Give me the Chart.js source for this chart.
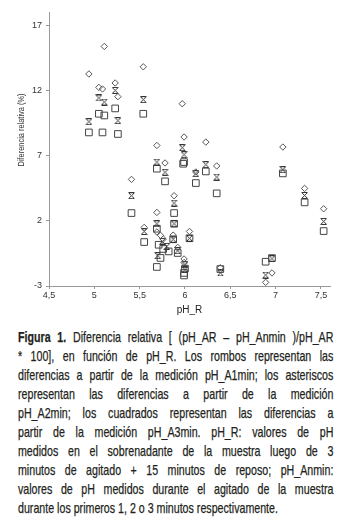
<!DOCTYPE html>
<html lang="es">
<head>
  <meta charset="UTF-8">
  <title>Figura 1 - Diferencia relativa</title>
  <script src="https://cdn.jsdelivr.net/npm/chart.js"></script>
  <style>
    body { margin: 0; background: #fff; }
    #wrap { position: relative; width: 348px; height: 524px; overflow: hidden; }
    #chart { position: absolute; left: 0; top: 0; }
    .caption { position: absolute; left: 18px; top: 328px; }
    .caption div {
      width: 432px; height: 19px; line-height: 19px;
      font-family: "Liberation Sans", Arial, sans-serif; font-size: 14.6px; color: #231f20;
      -webkit-text-stroke: 0.25px #231f20;
      text-align: justify; text-align-last: justify;
      transform: scaleX(0.73); transform-origin: 0 0;
    }
    .caption div.last { text-align-last: left; }
  </style>
</head>
<body>
  <div id="wrap">
    <canvas id="chart" width="348" height="320"></canvas>
    <div class="caption">
      <div><span><b>Figura 1.</b> Diferencia relativa [ (pH_AR – pH_Anmin )/pH_AR</span></div>
      <div><span>* 100], en función de pH_R. Los rombos representan las</span></div>
      <div><span>diferencias a partir de la medición pH_A1min; los asteriscos</span></div>
      <div><span>representan las diferencias a partir de la medición</span></div>
      <div><span>pH_A2min; los cuadrados representan las diferencias a</span></div>
      <div><span>partir de la medición pH_A3min. pH_R: valores de pH</span></div>
      <div><span>medidos en el sobrenadante de la muestra luego de 3</span></div>
      <div><span>minutos de agitado + 15 minutos de reposo; pH_Anmin:</span></div>
      <div><span>valores de pH medidos durante el agitado de la muestra</span></div>
      <div class="last"><span>durante los primeros 1, 2 o 3 minutos respectivamente.</span></div>
    </div>
  </div>

  <script>
    // Values: pH_R and relative difference (%)
    const phR_1min = [4.94, 5.05, 5.09, 5.11, 5.23, 5.26, 5.54, 5.97, 5.99, 5.69, 6.23, 7.08, 5.78, 6.12, 6.35, 5.41, 7.32, 5.88, 7.53, 5.69, 5.55, 6.05, 5.69, 5.73, 5.92, 5.99, 6.96, 6.89, 6.39, 5.76, 5.87, 5.99];
    const dif_1min = [13.25, 12.22, 12.10, 15.36, 12.56, 11.51, 13.80, 10.97, 8.42, 7.77, 8.03, 7.65, 6.43, 5.74, 6.20, 5.17, 4.48, 3.92, 2.92, 2.64, 1.49, 1.18, 1.14, 0.88, -0.04, -0.93, -2.00, -2.72, -1.60, 0.60, 0.90, -1.20];

    const phR_2min = [4.94, 5.05, 5.11, 5.23, 5.26, 5.54, 5.97, 5.99, 6.23, 7.08, 5.69, 5.78, 6.12, 6.35, 5.41, 7.32, 5.88, 7.53, 5.69, 5.55, 5.88, 6.05, 5.75, 5.80, 5.70, 5.87, 5.92, 6.00, 6.00, 6.39, 6.89, 6.96];
    const dif_2min = [9.59, 11.41, 11.10, 11.99, 9.67, 11.28, 7.60, 7.06, 6.30, 5.91, 6.50, 5.72, 5.61, 5.35, 3.92, 3.94, 3.36, 1.95, 1.77, 1.18, 1.77, 0.66, 0.42, 0.04, -0.68, 0.58, -0.30, -1.37, -1.75, -2.00, -2.16, -0.91];

    const phR_3min = [4.94, 5.05, 5.11, 5.09, 5.23, 5.26, 5.54, 5.98, 5.99, 5.69, 5.78, 6.23, 6.12, 6.35, 7.08, 5.41, 7.32, 5.88, 7.53, 5.69, 5.88, 5.55, 6.05, 5.71, 5.76, 5.82, 5.73, 5.92, 5.87, 5.69, 6.00, 5.99, 5.99, 6.39, 6.89, 6.96];
    const dif_3min = [8.77, 10.20, 10.07, 8.77, 10.61, 8.65, 10.20, 6.37, 6.50, 5.99, 5.02, 5.78, 4.89, 4.10, 5.63, 2.59, 3.41, 2.59, 1.21, 1.39, 1.77, 0.37, 0.66, 0.16, -0.16, -0.35, -0.85, -0.47, 0.58, -1.54, -1.67, -2.00, -2.19, -1.70, -1.14, -0.86];

    const xTicks = [4.5, 5, 5.5, 6, 6.5, 7, 7.5];
    const yTicks = [-3, 2, 7, 12, 17];

    const sans = '"Liberation Sans", Arial, sans-serif';

    function toPoints(xs, ys) {
      return xs.map((x, i) => ({ x: x, y: ys[i] }));
    }

    // asterisk marker: an X closed with small bars top and bottom
    function asteriskMark() {
      const c = document.createElement('canvas');
      c.width = 7; c.height = 7;
      const g = c.getContext('2d');
      g.strokeStyle = '#333';
      g.lineWidth = 1;
      g.beginPath();
      g.moveTo(0.5, 0.5); g.lineTo(6.5, 6.5);
      g.moveTo(6.5, 0.5); g.lineTo(0.5, 6.5);
      g.moveTo(1, 0.5); g.lineTo(6, 0.5);
      g.moveTo(1, 6.5); g.lineTo(6, 6.5);
      g.stroke();
      return c;
    }

    // rotated y axis title, a bit above the axis centre like the original
    const yTitle = {
      id: 'yTitle',
      afterDraw(chart) {
        const ctx = chart.ctx;
        ctx.save();
        ctx.translate(21, 130);
        ctx.rotate(-Math.PI / 2);
        ctx.scale(0.78, 1);
        ctx.font = '9.5px ' + sans;
        ctx.fillStyle = '#333';
        ctx.textAlign = 'center';
        ctx.textBaseline = 'middle';
        ctx.fillText('Diferencia relativa (%)', 0, 0);
        ctx.restore();
      }
    };

    new Chart(document.getElementById('chart'), {
      type: 'scatter',
      data: {
        datasets: [
          {
            label: 'pH_A1min',
            data: toPoints(phR_1min, dif_1min),
            pointStyle: 'rectRot',
            pointRadius: 3.2,
            borderColor: '#555',
            backgroundColor: 'rgba(0,0,0,0)',
            borderWidth: 1
          },
          {
            label: 'pH_A2min',
            data: toPoints(phR_2min, dif_2min),
            pointStyle: asteriskMark(),
            pointRadius: 3.5
          },
          {
            label: 'pH_A3min',
            data: toPoints(phR_3min, dif_3min),
            pointStyle: 'rect',
            pointRadius: 4.7,
            borderColor: '#444',
            backgroundColor: 'rgba(0,0,0,0)',
            borderWidth: 1
          }
        ]
      },
      options: {
        responsive: false,
        animation: false,
        layout: { padding: { top: 12, right: 18, left: 0, bottom: 0 } },
        plugins: { legend: { display: false }, tooltip: { enabled: false } },
        scales: {
          x: {
            type: 'linear',
            min: 4.5,
            max: 7.6,
            afterBuildTicks: (s) => { s.ticks = xTicks.map(v => ({ value: v })); },
            afterFit: (s) => { s.height = 34; },
            border: { display: true, color: '#999', width: 1 },
            grid: { drawOnChartArea: false, drawTicks: true, tickLength: 3, color: '#999' },
            ticks: {
              padding: 1,
              color: '#333',
              font: { family: sans, size: 9 },
              maxRotation: 0,
              callback: (v) => String(v).replace('.', ',')
            },
            title: {
              display: true,
              text: 'pH_R',
              color: '#222',
              font: { family: sans, size: 10 },
              padding: { top: 0, bottom: 4 }
            }
          },
          y: {
            min: -3,
            max: 18,
            afterBuildTicks: (s) => { s.ticks = yTicks.map(v => ({ value: v })); },
            afterFit: (s) => { s.width = 49; },
            border: { display: true, color: '#999', width: 1 },
            grid: { drawOnChartArea: false, drawTicks: true, tickLength: 3, color: '#999' },
            ticks: {
              padding: 4,
              color: '#333',
              font: { family: sans, size: 9 }
            }
          }
        }
      },
      plugins: [yTitle]
    });

    // squeeze any caption line that is too long to fit the 315px column
    document.querySelectorAll('.caption div').forEach(line => {
      const span = line.firstElementChild;
      line.style.whiteSpace = 'nowrap';
      const natural = span.offsetWidth;
      line.style.whiteSpace = '';
      if (natural > line.clientWidth) {
        line.style.transform = 'scaleX(' + (315 / natural) + ')';
        line.style.width = natural + 'px';
      }
    });
  </script>
</body>
</html>
